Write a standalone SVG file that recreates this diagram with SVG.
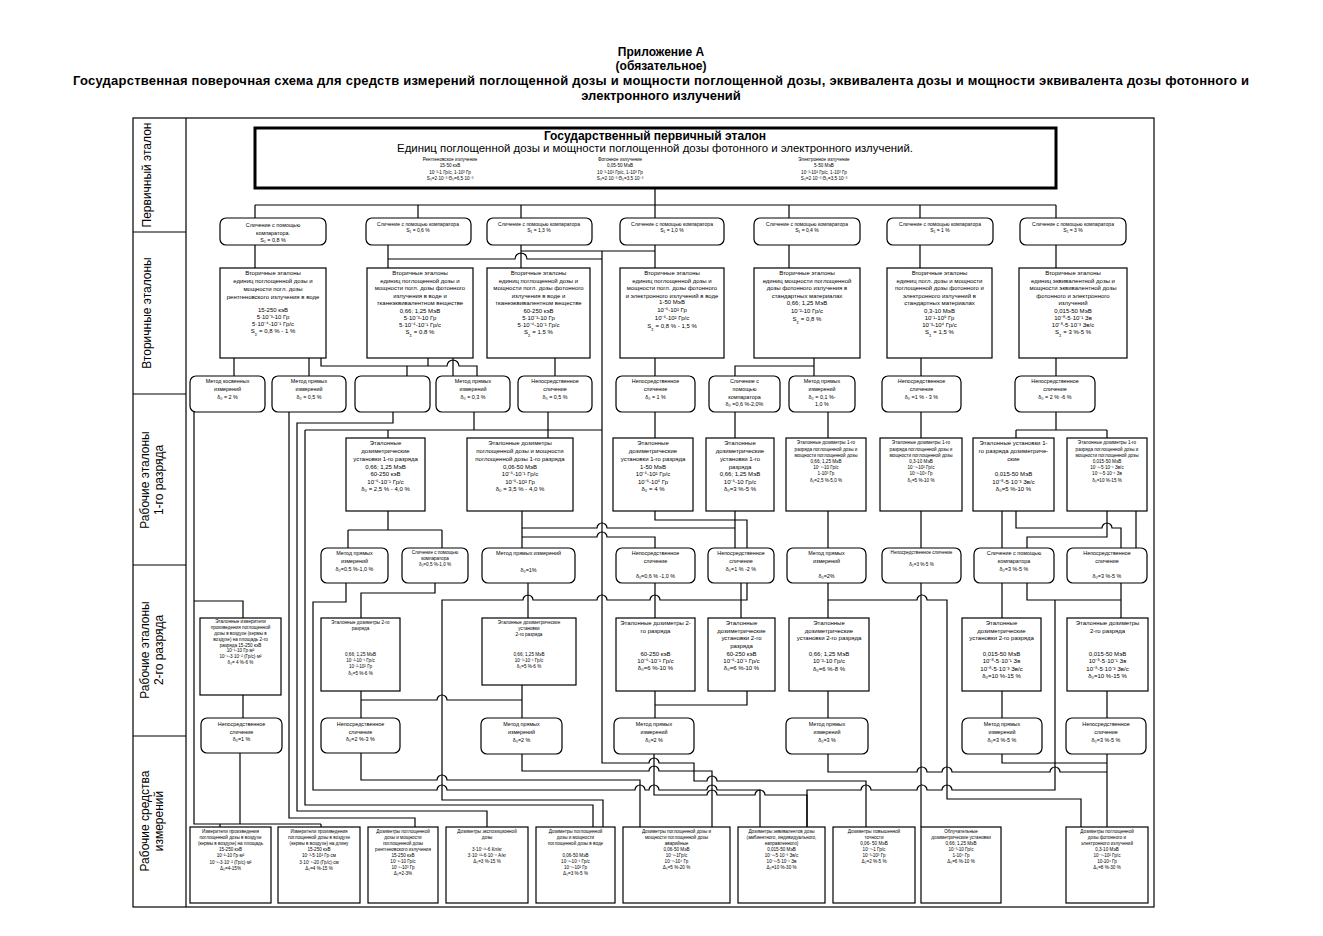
<svg xmlns="http://www.w3.org/2000/svg" width="1323" height="936" viewBox="0 0 1323 936">
<style>
text{font-family:"Liberation Sans",Arial,sans-serif;fill:#000}
.ti{font-size:12px;font-weight:bold;text-anchor:middle}
.lab{font-size:12px;text-anchor:middle}
.t6{font-size:6px;text-anchor:middle}
.t55{font-size:5.4px;text-anchor:middle}
.t5{font-size:5px;text-anchor:middle}
.t45{font-size:4.6px;text-anchor:middle}
.sb{baseline-shift:sub;font-size:70%}
.bx{fill:#fff;stroke:#000;stroke-width:1.2}
.c{fill:none;stroke:#000;stroke-width:1.2}
.fr{fill:none;stroke:#000;stroke-width:1.2}
</style>
<rect width="1323" height="936" fill="#fff"/>
<g id="title">
<text class="ti" x="661" y="56">Приложение А</text>
<text class="ti" x="661" y="70">(обязательное)</text>
<text class="ti" x="661" y="85" style="font-size:13px" textLength="1176">Государственная поверочная схема для средств измерений поглощенной дозы и мощности поглощенной дозы, эквивалента дозы и мощности эквивалента дозы фотонного и</text>
<text class="ti" x="661" y="100" style="font-size:13px">электронного излучений</text>
</g>
<g id="frame">
<rect class="fr" x="133" y="118" width="1021" height="789"/>
<line class="fr" x1="186" y1="118" x2="186" y2="907"/>
<line class="fr" x1="133" y1="232" x2="186" y2="232"/>
<line class="fr" x1="133" y1="394" x2="186" y2="394"/>
<line class="fr" x1="133" y1="565" x2="186" y2="565"/>
<line class="fr" x1="133" y1="736" x2="186" y2="736"/>
<text class="lab" transform="rotate(-90 151 175)" x="151" y="175">Первичный эталон</text>
<text class="lab" transform="rotate(-90 151 313)" x="151" y="313">Вторичные эталоны</text>
<text class="lab" transform="rotate(-90 149 480)" x="149" y="480">Рабочие эталоны</text>
<text class="lab" transform="rotate(-90 163 480)" x="163" y="480">1-го разряда</text>
<text class="lab" transform="rotate(-90 149 650)" x="149" y="650">Рабочие эталоны</text>
<text class="lab" transform="rotate(-90 163 650)" x="163" y="650">2-го разряда</text>
<text class="lab" transform="rotate(-90 149 821)" x="149" y="821">Рабочие средства</text>
<text class="lab" transform="rotate(-90 163 821)" x="163" y="821">измерений</text>
</g>
<g id="connectors">
<path class="c" d="M655,188V205M255,205H1056M255,205V218M418,205V218M521,205V218M655,205V218M789,205V218M920,205V218M1056,205V218"/>
<path class="c" d="M255,245V268M388,245V268M388,259H515a6,6 0 0 1 12,0H602M521,245V268M521,251H655M655,245V268M789,245V268M920,245V268M1056,245V268"/>
<path class="c" d="M602,251V763H649a5,5 0 0 1 10,0H694V781H707a5,5 0 0 1 10,0H866V827"/>
<path class="c" d="M234,358V376M309,358V376M321,358V366H447a6,6 0 0 1 12,0H477V376M407,366V376M428,358V366M453,358V376M555,358V376M655,358V376M814,358V366H735V376M814,366V376M921,358V376M1056,358V376"/>
<path class="c" d="M194,412V824H321M220,824V827M321,824V827M194,601H243V618M243,695V718M240,753V824"/>
<path class="c" d="M289,412V818H415V827M393,412V423H297V811H487V827M474,412V430M305,430H602M388,430V438M305,430V805H593V827"/>
<path class="c" d="M548,412V438M655,412V438M735,412V438M828,412V438M921,412V438M1056,412V430M1016,430H1107M1016,430V438M1107,430V438"/>
<path class="c" d="M388,511V530M348,530H442M348,530V548M442,530V548M522,511V548M522,528H597a5,5 0 0 1 10,0H735M522,537H597a5,5 0 0 1 10,0H655V548M655,511V520H747V548M735,511V548M828,511V548M921,511V548M1002,511V548M1016,511V528H1102a5,5 0 0 1 10,0H1121V548M1107,511V537H1027V548M1136,511V548"/>
<path class="c" d="M346,583V602H313V790H437a5,5 0 0 1 10,0H635a5,5 0 0 1 10,0H649a5,5 0 0 1 10,0H707a5,5 0 0 1 10,0H760V827"/>
<path class="c" d="M435,583V593H361V618M528,583V618M655,583V618M741,583V618M747,583V600H660a5,5 0 0 0 -10,0H607a5,5 0 0 0 -10,0H533a5,5 0 0 0 -10,0H442V800H603V827"/>
<path class="c" d="M828,583V618M828,600H917a5,5 0 0 1 10,0H947V799H1081V827M921,583V827M1002,583V618M1027,583V600H1121M1121,583V618M1055,600V790H952a5,5 0 0 0 -10,0H927a5,5 0 0 0 -10,0H871a5,5 0 0 0 -10,0H807V827"/>
<path class="c" d="M361,691V718M361,700H437a5,5 0 0 1 10,0H522M522,685V718M655,691V718M747,691V705H655M828,691V718M1002,691V718M1107,691V718"/>
<path class="c" d="M361,753V780H437a5,5 0 0 1 10,0H640V827M522,754V771H649a5,5 0 0 1 10,0H712V827M654,754V795H707a5,5 0 0 1 10,0H755a5,5 0 0 1 10,0H807V827M828,754V772H917a5,5 0 0 1 10,0H942a5,5 0 0 1 10,0H1050a5,5 0 0 1 10,0H1107M1002,754V763H1107M1107,754V827"/>
</g>
<g id="primary">
<rect x="255" y="128" width="801" height="60" fill="#fff" stroke="#000" stroke-width="3"/>
<text class="ti" x="655" y="140">Государственный первичный эталон</text>
<text x="655" y="152" font-size="11.4" text-anchor="middle">Единиц поглощенной дозы и мощности поглощенной дозы фотонного и электронного излучений.</text>
<text class="t45"><tspan x="450" y="161">Рентгеновское излучение</tspan><tspan x="450" y="167">15-50 кэВ</tspan><tspan x="450" y="174">10⁻³-1 Гр/с, 1-10³ Гр</tspan><tspan x="450" y="180">S₀=2·10⁻³  Θ₀=6,5·10⁻³</tspan></text>
<text class="t45"><tspan x="620" y="161">Фотонное излучение</tspan><tspan x="620" y="167">0,05-50 МэВ</tspan><tspan x="620" y="174">10⁻³-10² Гр/с, 1-10³ Гр</tspan><tspan x="620" y="180">S₀=2·10⁻³  Θ₀=3,5·10⁻³</tspan></text>
<text class="t45"><tspan x="824" y="161">Электронное излучение</tspan><tspan x="824" y="167">5-50 МэВ</tspan><tspan x="824" y="174">10⁻³-10² Гр/с, 1-10³ Гр</tspan><tspan x="824" y="180">S₀=2·10⁻³  Θ₀=3,5·10⁻³</tspan></text>
</g>
<g id="c1"><rect class="bx" x="220" y="218" width="106" height="27" rx="6"/><text class="t55"><tspan x="273" y="227">Сличение с помощью</tspan><tspan x="273" y="235">компаратора.</tspan><tspan x="273" y="242">S₁ = 0,8 %</tspan></text></g>
<g id="c2"><rect class="bx" x="366" y="218" width="105" height="27" rx="6"/><text class="t5"><tspan x="418" y="226">Сличение с помощью компаратора</tspan><tspan x="418" y="232">S₁ = 0,6 %</tspan></text></g>
<g id="c3"><rect class="bx" x="487" y="218" width="105" height="27" rx="6"/><text class="t5"><tspan x="539" y="226">Сличение с помощью компаратора</tspan><tspan x="539" y="232">S₁ = 1,3 %</tspan></text></g>
<g id="c4"><rect class="bx" x="620" y="218" width="104" height="27" rx="6"/><text class="t5"><tspan x="672" y="226">Сличение с помощью компаратора</tspan><tspan x="672" y="232">S₁ = 1,0 %</tspan></text></g>
<g id="c5"><rect class="bx" x="754" y="218" width="106" height="27" rx="6"/><text class="t5"><tspan x="807" y="226">Сличение с помощью компаратора</tspan><tspan x="807" y="232">S₁ = 0,4 %</tspan></text></g>
<g id="c6"><rect class="bx" x="887" y="218" width="106" height="27" rx="6"/><text class="t5"><tspan x="940" y="226">Сличение с помощью компаратора</tspan><tspan x="940" y="232">S₁ = 1 %</tspan></text></g>
<g id="c7"><rect class="bx" x="1020" y="218" width="106" height="27" rx="6"/><text class="t5"><tspan x="1073" y="226">Сличение с помощью компаратора</tspan><tspan x="1073" y="232">S₁ = 3 %</tspan></text></g>
<g id="s1"><rect class="bx" x="220" y="268" width="106" height="90"/><text class="t6"><tspan x="273" y="275">Вторичные эталоны</tspan><tspan x="273" y="283">единиц поглощенной дозы и</tspan><tspan x="273" y="291">мощности погл. дозы</tspan><tspan x="273" y="298.5">рентгеновского излучения в воде</tspan><tspan x="273" y="312">15-250 кэВ</tspan><tspan x="273" y="319">5·10⁻³-10 Гр</tspan><tspan x="273" y="326">5·10⁻⁴-10⁻¹ Гр/с</tspan><tspan x="273" y="333">S<tspan class="sb">Σ</tspan> = 0,8 % - 1 %</tspan></text></g>
<g id="s2"><rect class="bx" x="367" y="268" width="106" height="90"/><text class="t6"><tspan x="420" y="275">Вторичные эталоны</tspan><tspan x="420" y="282.5">единиц поглощенной дозы и</tspan><tspan x="420" y="290">мощности погл. дозы фотонного</tspan><tspan x="420" y="297.5">излучения в воде и</tspan><tspan x="420" y="305">тканеэквивалентном веществе</tspan><tspan x="420" y="312.5">0,66; 1,25 МэВ</tspan><tspan x="420" y="319.5">5·10⁻³-10 Гр</tspan><tspan x="420" y="326.5">5·10⁻⁴-10⁻¹ Гр/с</tspan><tspan x="420" y="334">S<tspan class="sb">Σ</tspan> = 0.8 %</tspan></text></g>
<g id="s3"><rect class="bx" x="487" y="268" width="103" height="90"/><text class="t6"><tspan x="538.5" y="275">Вторичные эталоны</tspan><tspan x="538.5" y="282.5">единиц поглощенной дозы и</tspan><tspan x="538.5" y="290">мощности погл. дозы фотонного</tspan><tspan x="538.5" y="297.5">излучения в воде и</tspan><tspan x="538.5" y="305">тканеэквивалентном веществе</tspan><tspan x="538.5" y="312.5">60-250 кэВ</tspan><tspan x="538.5" y="319.5">5·10⁻³-10 Гр</tspan><tspan x="538.5" y="326.5">5·10⁻⁴-10⁻¹ Гр/с</tspan><tspan x="538.5" y="334">S<tspan class="sb">Σ</tspan> = 1.5 %</tspan></text></g>
<g id="s4"><rect class="bx" x="620" y="268" width="104" height="90"/><text class="t6"><tspan x="672" y="275">Вторичные эталоны</tspan><tspan x="672" y="282.5">единиц поглощенной дозы и</tspan><tspan x="672" y="290">мощности погл. дозы фотонного</tspan><tspan x="672" y="297.5">и электронного излучений в воде</tspan><tspan x="672" y="304">1-50 МэВ</tspan><tspan x="672" y="312">10⁻⁶-10² Гр</tspan><tspan x="672" y="319.5">10⁻⁶-10² Гр/с</tspan><tspan x="672" y="328">S<tspan class="sb">Σ</tspan> = 0,8 % - 1,5 %</tspan></text></g>
<g id="s5"><rect class="bx" x="754" y="268" width="106" height="90"/><text class="t6"><tspan x="807" y="275">Вторичные эталоны</tspan><tspan x="807" y="282.5">единиц мощности поглощенной</tspan><tspan x="807" y="290">дозы фотонного излучения в</tspan><tspan x="807" y="297.5">стандартных материалах</tspan><tspan x="807" y="305">0,66; 1,25 МэВ</tspan><tspan x="807" y="312.5">10⁻²-10 Гр/с</tspan><tspan x="807" y="320.5">S<tspan class="sb">Σ</tspan> = 0,8 %</tspan></text></g>
<g id="s6"><rect class="bx" x="887" y="268" width="105" height="90"/><text class="t6"><tspan x="939.5" y="275">Вторичные эталоны</tspan><tspan x="939.5" y="282.5">единиц погл. дозы и мощности</tspan><tspan x="939.5" y="290">поглощенной дозы фотонного и</tspan><tspan x="939.5" y="297.5">электронного излучений в</tspan><tspan x="939.5" y="305">стандартных материалах</tspan><tspan x="939.5" y="312.5">0,3-10 МэВ</tspan><tspan x="939.5" y="319.5">10⁻¹-10⁶ Гр</tspan><tspan x="939.5" y="326.5">10⁻³-10⁴ Гр/с</tspan><tspan x="939.5" y="334">S<tspan class="sb">Σ</tspan> = 1,5 %</tspan></text></g>
<g id="s7"><rect class="bx" x="1019" y="268" width="108" height="90"/><text class="t6"><tspan x="1073" y="275">Вторичные эталоны</tspan><tspan x="1073" y="282.5">единиц эквивалентной дозы и</tspan><tspan x="1073" y="290">мощности эквивалентной дозы</tspan><tspan x="1073" y="297.5">фотонного и электронного</tspan><tspan x="1073" y="305">излучений</tspan><tspan x="1073" y="312.5">0,015-50 МэВ</tspan><tspan x="1073" y="319.5">10⁻⁸-5·10⁻¹ Зв</tspan><tspan x="1073" y="326.5">10⁻⁸-5·10⁻³ Зв/с</tspan><tspan x="1073" y="334">S<tspan class="sb">Σ</tspan> = 3 %-5 %</tspan></text></g>
<g id="m1"><rect class="bx" x="190" y="376" width="75" height="36" rx="6"/><text class="t55"><tspan x="227.5" y="383">Метод косвенных</tspan><tspan x="227.5" y="391">измерений</tspan><tspan x="227.5" y="399">δ₀ = 2 %</tspan></text></g>
<g id="m2"><rect class="bx" x="272" y="376" width="74" height="36" rx="6"/><text class="t55"><tspan x="309" y="383">Метод прямых</tspan><tspan x="309" y="391">измерений</tspan><tspan x="309" y="399">δ₀ = 0,5 %</tspan></text></g>
<g id="m3"><rect class="bx" x="355" y="376" width="75" height="36" rx="6"/></g>
<g id="m4"><rect class="bx" x="436" y="376" width="74" height="36" rx="6"/><text class="t55"><tspan x="473" y="383">Метод прямых</tspan><tspan x="473" y="391">измерений</tspan><tspan x="473" y="399">δ₀ = 0,3 %</tspan></text></g>
<g id="m5"><rect class="bx" x="518" y="376" width="74" height="36" rx="6"/><text class="t55"><tspan x="555" y="383">Непосредственное</tspan><tspan x="555" y="391">сличение</tspan><tspan x="555" y="399">δ₀ = 0,5 %</tspan></text></g>
<g id="m6"><rect class="bx" x="616" y="376" width="79" height="36" rx="6"/><text class="t55"><tspan x="655.5" y="383">Непосредственное</tspan><tspan x="655.5" y="391">сличение</tspan><tspan x="655.5" y="399">δ₀ = 1 %</tspan></text></g>
<g id="m7"><rect class="bx" x="709" y="376" width="71" height="36" rx="6"/><text class="t55"><tspan x="744.5" y="383">Сличение с</tspan><tspan x="744.5" y="391">помощью</tspan><tspan x="744.5" y="399">компаратора</tspan><tspan x="744.5" y="406">δ₀ =0,6 %-2,0%</tspan></text></g>
<g id="m8"><rect class="bx" x="789" y="376" width="66" height="36" rx="6"/><text class="t55"><tspan x="822" y="383">Метод прямых</tspan><tspan x="822" y="391">измерений</tspan><tspan x="822" y="399">δ₀ = 0,1 %-</tspan><tspan x="822" y="406">1,0 %</tspan></text></g>
<g id="m9"><rect class="bx" x="882" y="376" width="79" height="36" rx="6"/><text class="t55"><tspan x="921.5" y="383">Непосредственное</tspan><tspan x="921.5" y="391">сличение</tspan><tspan x="921.5" y="399">δ₀ =1 % - 3 %</tspan></text></g>
<g id="m10"><rect class="bx" x="1015" y="376" width="80" height="36" rx="6"/><text class="t55"><tspan x="1055" y="383">Непосредственное</tspan><tspan x="1055" y="391">сличение</tspan><tspan x="1055" y="399">δ₀ = 2 % -6 %</tspan></text></g>
<g id="w1"><rect class="bx" x="346" y="438" width="79" height="73"/><text class="t6"><tspan x="385.5" y="445">Эталонные</tspan><tspan x="385.5" y="453">дозиметрические</tspan><tspan x="385.5" y="461">установки 1-го разряда</tspan><tspan x="385.5" y="469">0,66; 1,25 МэВ</tspan><tspan x="385.5" y="476">60-250 кэВ</tspan><tspan x="385.5" y="483.5">10⁻⁶-10⁻¹ Гр/с</tspan><tspan x="385.5" y="491">δ₀ = 2,5 % - 4,0 %</tspan></text></g>
<g id="w2"><rect class="bx" x="467" y="438" width="106" height="73"/><text class="t6"><tspan x="520" y="445">Эталонные дозиметры</tspan><tspan x="520" y="453">поглощенной дозы и мощности</tspan><tspan x="520" y="461">поглощенной дозы 1-го разряда</tspan><tspan x="520" y="469">0,06-50 МэВ</tspan><tspan x="520" y="476">10⁻⁶-10⁻¹ Гр/с</tspan><tspan x="520" y="483.5">10⁻⁵-10² Гр</tspan><tspan x="520" y="491">δ₀ = 3,5 % - 4,0 %</tspan></text></g>
<g id="w3"><rect class="bx" x="613" y="438" width="80" height="73"/><text class="t6"><tspan x="653" y="445">Эталонные</tspan><tspan x="653" y="453">дозиметрические</tspan><tspan x="653" y="461">установки 1-го разряда</tspan><tspan x="653" y="469">1-50 МэВ</tspan><tspan x="653" y="476">10⁻⁶-10² Гр/с</tspan><tspan x="653" y="483.5">10⁻⁵-10⁶ Гр</tspan><tspan x="653" y="491">δ₀ = 4 %</tspan></text></g>
<g id="w4"><rect class="bx" x="706" y="438" width="68" height="73"/><text class="t6"><tspan x="740" y="445">Эталонные</tspan><tspan x="740" y="453">дозиметрические</tspan><tspan x="740" y="461">установки 1-го</tspan><tspan x="740" y="469">разряда</tspan><tspan x="740" y="476">0,66; 1,25 МэВ</tspan><tspan x="740" y="483.5">10⁻⁶-10 Гр/с</tspan><tspan x="740" y="491">δ₀=3 %-5 %</tspan></text></g>
<g id="w5"><rect class="bx" x="786" y="438" width="80" height="73"/><text class="t45"><tspan x="826" y="444">Эталонные дозиметры 1-го</tspan><tspan x="826" y="450.5">разряда поглощенной дозы и</tspan><tspan x="826" y="457">мощности поглощенной дозы</tspan><tspan x="826" y="463">0,66; 1,25 МэВ</tspan><tspan x="826" y="469">10⁻⁴-10 Гр/с</tspan><tspan x="826" y="475">1-10³ Гр</tspan><tspan x="826" y="481.5">δ₀=2,5 %-5,0 %</tspan></text></g>
<g id="w6"><rect class="bx" x="880" y="438" width="82" height="73"/><text class="t45"><tspan x="921" y="444">Эталонные дозиметры 1-го</tspan><tspan x="921" y="450.5">разряда поглощенной дозы и</tspan><tspan x="921" y="457">мощности поглощенной дозы</tspan><tspan x="921" y="463">0,3-10 МэВ</tspan><tspan x="921" y="469">10⁻⁴-10² Гр/с</tspan><tspan x="921" y="475">10⁻¹-10⁶ Гр</tspan><tspan x="921" y="481.5">δ₀=5 %-10 %</tspan></text></g>
<g id="w7"><rect class="bx" x="973" y="438" width="81" height="73"/><text class="t6"><tspan x="1013.5" y="445">Эталонные установки 1-</tspan><tspan x="1013.5" y="453">го разряда  дозиметриче-</tspan><tspan x="1013.5" y="461">ские</tspan><tspan x="1013.5" y="476">0,015-50 МэВ</tspan><tspan x="1013.5" y="483.5">10⁻⁸-5·10⁻³ Зв/с</tspan><tspan x="1013.5" y="491">δ₀=5 %-10 %</tspan></text></g>
<g id="w8"><rect class="bx" x="1067" y="438" width="80" height="73"/><text class="t45"><tspan x="1107" y="444">Эталонные дозиметры 1-го</tspan><tspan x="1107" y="450.5">разряда  поглощенной дозы и</tspan><tspan x="1107" y="457">мощности поглощенной дозы</tspan><tspan x="1107" y="463">0,015-50 МэВ</tspan><tspan x="1107" y="469">10⁻⁸-5·10⁻¹ Зв/с</tspan><tspan x="1107" y="475">10⁻⁸-5·10⁻¹ Зв</tspan><tspan x="1107" y="481.5">δ₀=10 %-15 %</tspan></text></g>
<g id="n1"><rect class="bx" x="321" y="548" width="67" height="35" rx="6"/><text class="t55"><tspan x="354.5" y="555">Метод прямых</tspan><tspan x="354.5" y="563">измерений</tspan><tspan x="354.5" y="571">δ₀=0,5 %-1,0 %</tspan></text></g>
<g id="n2"><rect class="bx" x="402" y="548" width="66" height="35" rx="6"/><text class="t45"><tspan x="435" y="554">Сличение с помощью</tspan><tspan x="435" y="560">компаратора</tspan><tspan x="435" y="566">δ₀=0,5 %-1,0 %</tspan></text></g>
<g id="n3"><rect class="bx" x="482" y="548" width="93" height="35" rx="6"/><text class="t55"><tspan x="528.5" y="555">Метод прямых измерений</tspan><tspan x="528.5" y="572">δ₀=1%</tspan></text></g>
<g id="n4"><rect class="bx" x="616" y="548" width="79" height="35" rx="6"/><text class="t55"><tspan x="655.5" y="555">Непосредственное</tspan><tspan x="655.5" y="563">сличение</tspan><tspan x="655.5" y="578">δ₀=0,6 % -1,0 %</tspan></text></g>
<g id="n5"><rect class="bx" x="708" y="548" width="66" height="35" rx="6"/><text class="t55"><tspan x="741" y="555">Непосредственное</tspan><tspan x="741" y="563">сличение</tspan><tspan x="741" y="571">δ₀=1 % -2 %</tspan></text></g>
<g id="n6"><rect class="bx" x="787" y="548" width="79" height="35" rx="6"/><text class="t55"><tspan x="826.5" y="555">Метод прямых</tspan><tspan x="826.5" y="563">измерений</tspan><tspan x="826.5" y="578">δ₀=2%</tspan></text></g>
<g id="n7"><rect class="bx" x="882" y="548" width="79" height="35" rx="6"/><text class="t45"><tspan x="921.5" y="554">Непосредственное сличение</tspan><tspan x="921.5" y="566">δ₀=3 %-5 %</tspan></text></g>
<g id="n8"><rect class="bx" x="974" y="548" width="80" height="35" rx="6"/><text class="t55"><tspan x="1014" y="555">Сличение с помощью</tspan><tspan x="1014" y="563">компаратора</tspan><tspan x="1014" y="571">δ₀=3 %-5 %</tspan></text></g>
<g id="n9"><rect class="bx" x="1067" y="548" width="80" height="35" rx="6"/><text class="t55"><tspan x="1107" y="555">Непосредственное</tspan><tspan x="1107" y="563">сличение</tspan><tspan x="1107" y="578">δ₀=3 %-5 %</tspan></text></g>
<g id="v1"><rect class="bx" x="200" y="618" width="81" height="77"/><text class="t45"><tspan x="240.5" y="623">Эталонные измерители</tspan><tspan x="240.5" y="629">произведения поглощенной</tspan><tspan x="240.5" y="635">дозы в воздухе (кермы в</tspan><tspan x="240.5" y="641">воздухе) на площадь 2-го</tspan><tspan x="240.5" y="647">разряда 15-250 кэВ</tspan><tspan x="240.5" y="652">10⁻¹-10 Гр·м²</tspan><tspan x="240.5" y="658">10⁻⁵-3·10⁻² (Гр/с)·м²</tspan><tspan x="240.5" y="664">δ₀= 4 %-6 %</tspan></text></g>
<g id="v2"><rect class="bx" x="321" y="618" width="79" height="73"/><text class="t45"><tspan x="360.5" y="624">Эталонные дозиметры 2-го</tspan><tspan x="360.5" y="630">разряда</tspan><tspan x="360.5" y="656">0,66; 1,25 МэВ</tspan><tspan x="360.5" y="662">10⁻²-10⁻¹ Гр/с</tspan><tspan x="360.5" y="668">10⁻²-10² Гр</tspan><tspan x="360.5" y="675">δ₀=5 %-6 %</tspan></text></g>
<g id="v3"><rect class="bx" x="482" y="618" width="94" height="67"/><text class="t45"><tspan x="529" y="624">Эталонные дозиметрические</tspan><tspan x="529" y="630">установки</tspan><tspan x="529" y="636">2-го разряда</tspan><tspan x="529" y="656">0,66; 1,25 МэВ</tspan><tspan x="529" y="662">10⁻³-10⁻¹ Гр/с</tspan><tspan x="529" y="668">δ₀=5 %-6 %</tspan></text></g>
<g id="v4"><rect class="bx" x="616" y="618" width="79" height="73"/><text class="t6"><tspan x="655.5" y="625">Эталонные дозиметры 2-</tspan><tspan x="655.5" y="633">го разряда</tspan><tspan x="655.5" y="656">60-250 кэВ</tspan><tspan x="655.5" y="663">10⁻⁶-10⁻¹ Гр/с</tspan><tspan x="655.5" y="670">δ₀=6 %-10 %</tspan></text></g>
<g id="v5"><rect class="bx" x="708" y="618" width="67" height="73"/><text class="t6"><tspan x="741.5" y="625">Эталонные</tspan><tspan x="741.5" y="633">дозиметрические</tspan><tspan x="741.5" y="640">установки 2-го</tspan><tspan x="741.5" y="648">разряда</tspan><tspan x="741.5" y="656">60-250 кэВ</tspan><tspan x="741.5" y="663">10⁻⁶-10⁻¹ Гр/с</tspan><tspan x="741.5" y="670">δ₀=6 %-10 %</tspan></text></g>
<g id="v6"><rect class="bx" x="789" y="618" width="80" height="73"/><text class="t6"><tspan x="829" y="625">Эталонные</tspan><tspan x="829" y="633">дозиметрические</tspan><tspan x="829" y="640">установки 2-го разряда</tspan><tspan x="829" y="656">0,66; 1,25 МэВ</tspan><tspan x="829" y="663">10⁻²-10 Гр/с</tspan><tspan x="829" y="671">δ₀=6 %-8 %</tspan></text></g>
<g id="v7"><rect class="bx" x="962" y="618" width="79" height="73"/><text class="t6"><tspan x="1001.5" y="625">Эталонные</tspan><tspan x="1001.5" y="633">дозиметрические</tspan><tspan x="1001.5" y="640">установки 2-го разряда</tspan><tspan x="1001.5" y="656">0,015-50 МэВ</tspan><tspan x="1001.5" y="663">10⁻⁸-5·10⁻¹ Зв</tspan><tspan x="1001.5" y="671">10⁻⁸-5·10⁻³ Зв/с</tspan><tspan x="1001.5" y="678">δ₀=10 %-15 %</tspan></text></g>
<g id="v8"><rect class="bx" x="1067" y="618" width="81" height="73"/><text class="t6"><tspan x="1107.5" y="625">Эталонные дозиметры</tspan><tspan x="1107.5" y="633">2-го разряда</tspan><tspan x="1107.5" y="656">0,015-50 МэВ</tspan><tspan x="1107.5" y="663">10⁻⁸-5·10⁻¹ Зв</tspan><tspan x="1107.5" y="671">10⁻⁸-5·10⁻³ Зв/с</tspan><tspan x="1107.5" y="678">δ₀=10 %-15 %</tspan></text></g>
<g id="p1"><rect class="bx" x="201" y="718" width="81" height="35" rx="6"/><text class="t55"><tspan x="241.5" y="726">Непосредственное</tspan><tspan x="241.5" y="734">сличение</tspan><tspan x="241.5" y="741">δ₀=1 %</tspan></text></g>
<g id="p2"><rect class="bx" x="321" y="718" width="79" height="35" rx="6"/><text class="t55"><tspan x="360.5" y="726">Непосредственное</tspan><tspan x="360.5" y="734">сличение</tspan><tspan x="360.5" y="741">δ₀=2 %-3 %</tspan></text></g>
<g id="p3"><rect class="bx" x="481" y="718" width="81" height="36" rx="6"/><text class="t55"><tspan x="521.5" y="726">Метод прямых</tspan><tspan x="521.5" y="734">измерений</tspan><tspan x="521.5" y="742">δ₀=2 %</tspan></text></g>
<g id="p4"><rect class="bx" x="614" y="718" width="80" height="36" rx="6"/><text class="t55"><tspan x="654" y="726">Метод прямых</tspan><tspan x="654" y="734">измерений</tspan><tspan x="654" y="742">δ₀=2 %</tspan></text></g>
<g id="p5"><rect class="bx" x="786" y="718" width="82" height="36" rx="6"/><text class="t55"><tspan x="827" y="726">Метод прямых</tspan><tspan x="827" y="734">измерений</tspan><tspan x="827" y="742">δ₀=3 %</tspan></text></g>
<g id="p6"><rect class="bx" x="962" y="718" width="80" height="36" rx="6"/><text class="t55"><tspan x="1002" y="726">Метод прямых</tspan><tspan x="1002" y="734">измерений</tspan><tspan x="1002" y="742">δ₀=3 %-5 %</tspan></text></g>
<g id="p7"><rect class="bx" x="1066" y="718" width="80" height="36" rx="6"/><text class="t55"><tspan x="1106" y="726">Непосредственное</tspan><tspan x="1106" y="734">сличение</tspan><tspan x="1106" y="742">δ₀=3 %-5 %</tspan></text></g>
<g id="b1"><rect class="bx" x="190" y="827" width="81" height="76"/><text class="t45"><tspan x="230.5" y="833">Измерители произведения</tspan><tspan x="230.5" y="839">поглощенной дозы в воздухе</tspan><tspan x="230.5" y="845">(кермы в воздухе) на площадь</tspan><tspan x="230.5" y="851">15-250 кэВ</tspan><tspan x="230.5" y="857">10⁻²-10 Гр·м²</tspan><tspan x="230.5" y="864">10⁻⁵-3·10⁻² (Гр/с)·м²</tspan><tspan x="230.5" y="870">Δ₀=4-15%</tspan></text></g>
<g id="b2"><rect class="bx" x="278" y="827" width="82" height="76"/><text class="t45"><tspan x="319" y="833">Измерители произведения</tspan><tspan x="319" y="839">поглощенной дозы в воздухе</tspan><tspan x="319" y="845">(кермы в воздухе) на длину</tspan><tspan x="319" y="851">15-250 кэВ</tspan><tspan x="319" y="857">10⁻³-5·10² Гр·см</tspan><tspan x="319" y="864">3·10⁻⁴-20 (Гр/с)·см</tspan><tspan x="319" y="870">Δ₀=4 %-15 %</tspan></text></g>
<g id="b3"><rect class="bx" x="368" y="827" width="70" height="76"/><text class="t45"><tspan x="403" y="833">Дозиметры поглощенной</tspan><tspan x="403" y="839">дозы и мощности</tspan><tspan x="403" y="845">поглощенной дозы</tspan><tspan x="403" y="851">рентгеновского излучения</tspan><tspan x="403" y="857">15-250 кэВ</tspan><tspan x="403" y="863">10⁻⁶-10 Гр/с</tspan><tspan x="403" y="869">10⁻⁵-10³ Гр</tspan><tspan x="403" y="875">Δ₀=2-3%</tspan></text></g>
<g id="b4"><rect class="bx" x="446" y="827" width="82" height="76"/><text class="t45"><tspan x="487" y="833">Дозиметры экспозиционной</tspan><tspan x="487" y="839">дозы</tspan><tspan x="487" y="851">3·10⁻¹¹-6 Кл/кг</tspan><tspan x="487" y="857">3·10⁻¹²-6·10⁻⁴ А/кг</tspan><tspan x="487" y="863">Δ₀=3 %-15 %</tspan></text></g>
<g id="b5"><rect class="bx" x="536" y="827" width="79" height="76"/><text class="t45"><tspan x="575.5" y="833">Дозиметры поглощенной</tspan><tspan x="575.5" y="839">дозы и мощности</tspan><tspan x="575.5" y="845">поглощенной дозы в воде</tspan><tspan x="575.5" y="857">0,06-50 МэВ</tspan><tspan x="575.5" y="863">10⁻⁶-10⁻¹ Гр/с</tspan><tspan x="575.5" y="869">10⁻⁵-10² Гр</tspan><tspan x="575.5" y="875">Δ₀=3 %-5 %</tspan></text></g>
<g id="b6"><rect class="bx" x="623" y="827" width="107" height="76"/><text class="t45"><tspan x="676.5" y="833">Дозиметры поглощенной дозы и</tspan><tspan x="676.5" y="839">мощности поглощенной дозы</tspan><tspan x="676.5" y="845">аварийные</tspan><tspan x="676.5" y="851">0,06-50 МэВ</tspan><tspan x="676.5" y="857">10⁻⁵-1Гр/с</tspan><tspan x="676.5" y="863">10⁻⁴-10⁴ Гр</tspan><tspan x="676.5" y="869">Δ₀=5 %-20 %</tspan></text></g>
<g id="b7"><rect class="bx" x="738" y="827" width="87" height="76"/><text class="t45"><tspan x="781.5" y="833">Дозиметры эквивалентов дозы</tspan><tspan x="781.5" y="839">(амбиентного, индивидуального,</tspan><tspan x="781.5" y="845">направленного)</tspan><tspan x="781.5" y="851">0,015-50 МэВ</tspan><tspan x="781.5" y="857">10⁻⁸-5·10⁻³ Зв/с</tspan><tspan x="781.5" y="863">10⁻⁸-5·10⁻¹ Зв</tspan><tspan x="781.5" y="869">Δ₀=10 %-30 %</tspan></text></g>
<g id="b8"><rect class="bx" x="833" y="827" width="82" height="76"/><text class="t45"><tspan x="874" y="833">Дозиметры повышенной</tspan><tspan x="874" y="839">точности</tspan><tspan x="874" y="845">0,06- 50 МэВ</tspan><tspan x="874" y="851">10⁻⁴-1 Гр/с</tspan><tspan x="874" y="857">10⁻³-10³ Гр</tspan><tspan x="874" y="863">Δ₀=2 %-5 %</tspan></text></g>
<g id="b9"><rect class="bx" x="921" y="827" width="80" height="76"/><text class="t45"><tspan x="961" y="833">Облучательные</tspan><tspan x="961" y="839">дозиметрические установки</tspan><tspan x="961" y="845">0,66; 1,25 МэВ</tspan><tspan x="961" y="851">10⁻³-10 Гр/с</tspan><tspan x="961" y="857">1-10⁴ Гр</tspan><tspan x="961" y="863">Δ₀=6 %-10 %</tspan></text></g>
<g id="b10"><rect class="bx" x="1066" y="827" width="82" height="76"/><text class="t45"><tspan x="1107" y="833">Дозиметры поглощенной</tspan><tspan x="1107" y="839">дозы фотонного и</tspan><tspan x="1107" y="845">электронного излучений</tspan><tspan x="1107" y="851">0,3-10 МэВ</tspan><tspan x="1107" y="857">10⁻⁴-10² Гр/с</tspan><tspan x="1107" y="863">10-10⁶ Гр</tspan><tspan x="1107" y="869">Δ₀=8 %-30 %</tspan></text></g>
</svg>
